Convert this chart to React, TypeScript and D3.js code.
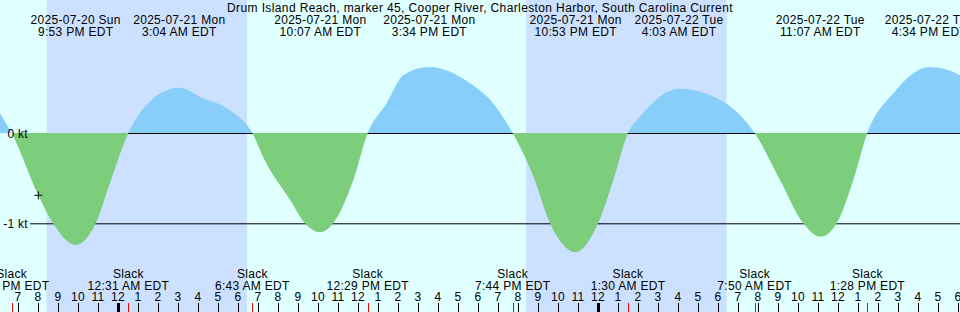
import React from "react";
import * as d3 from "d3";

// all times are local (EDT) as printed on the chart
const titleText =
  "Drum Island Reach, marker 45, Cooper River, Charleston Harbor, South Carolina Current";

const domainStart = "2025-07-20 18:06";
const domainEnd = "2025-07-22 18:06";

// current speed (kt, + = flood, - = ebb)
const curveTimes = [
  "2025-07-20 17:36", "2025-07-20 18:06", "2025-07-20 18:41", "2025-07-20 20:01",
  "2025-07-20 20:45", "2025-07-20 21:53", "2025-07-20 22:53", "2025-07-20 23:36",
  "2025-07-21 00:31", "2025-07-21 01:36", "2025-07-21 03:04", "2025-07-21 04:06",
  "2025-07-21 05:36", "2025-07-21 06:43", "2025-07-21 07:20", "2025-07-21 08:36",
  "2025-07-21 09:21", "2025-07-21 10:07", "2025-07-21 10:45", "2025-07-21 11:46",
  "2025-07-21 12:29", "2025-07-21 13:26", "2025-07-21 14:16", "2025-07-21 15:34",
  "2025-07-21 17:36", "2025-07-21 18:45", "2025-07-21 19:44", "2025-07-21 20:46",
  "2025-07-21 21:36", "2025-07-21 22:53", "2025-07-22 00:00", "2025-07-22 00:46",
  "2025-07-22 01:30", "2025-07-22 02:06", "2025-07-22 04:03", "2025-07-22 06:15",
  "2025-07-22 07:06", "2025-07-22 07:50", "2025-07-22 09:06", "2025-07-22 10:16",
  "2025-07-22 11:07", "2025-07-22 11:56", "2025-07-22 12:46", "2025-07-22 13:28",
  "2025-07-22 14:46", "2025-07-22 16:34", "2025-07-22 18:06", "2025-07-22 18:30",
];
const curveKt = [
  0.42, 0.22, 0, -0.69,
  -1.0, -1.24, -1.0, -0.55,
  0, 0.35, 0.5, 0.4,
  0.25, 0, -0.3, -0.74,
  -1.0, -1.1, -1.0, -0.52,
  0, 0.33, 0.64, 0.73,
  0.55, 0.33, 0, -0.48,
  -1.0, -1.32, -1.0, -0.52,
  0, 0.18, 0.49, 0.35,
  0.2, 0, -0.52, -1.0,
  -1.15, -1.0, -0.52, 0,
  0.44, 0.73, 0.64, 0.58,
];

// max flood / max ebb events (top labels)
const maxTimes = [
  "2025-07-20 21:53", "2025-07-21 03:04", "2025-07-21 10:07", "2025-07-21 15:34",
  "2025-07-21 22:53", "2025-07-22 04:03", "2025-07-22 11:07", "2025-07-22 16:34",
];
// slack water events (bottom labels + red ticks)
const slackTimes = [
  "2025-07-20 18:41", "2025-07-21 00:31", "2025-07-21 06:43", "2025-07-21 12:29",
  "2025-07-21 19:44", "2025-07-22 01:30", "2025-07-22 07:50", "2025-07-22 13:28",
];
// night (sunset -> sunrise)
const nightStart = ["2025-07-20 20:26", "2025-07-21 20:24"];
const nightEnd = ["2025-07-21 06:27", "2025-07-22 06:26"];

const gridKt = [0, -1];
const gridLabels = ["0 kt", "-1 kt"];

const markerTime = "2025-07-20 20:01";
const markerKt = -0.69;

const W = 960;
const H = 312;
const FONT = "'Liberation Sans', Arial, sans-serif";
const FS = 12;
const LS = 0.3;

const parse = d3.timeParse("%Y-%m-%d %H:%M");
const fmtDate = d3.timeFormat("%Y-%m-%d %a");
const fmtTime = d3.timeFormat("%-I:%M %p");
const fmtHour = d3.timeFormat("%-I");

export default function App() {
  const x = d3
    .scaleTime()
    .domain([parse(domainStart)!, parse(domainEnd)!])
    .range([0, W]);
  const y = d3.scaleLinear().domain([0, -1]).range([133, 223.3]);

  const pts = curveTimes.map((t, i) => ({ t: parse(t)!, v: curveKt[i] }));
  const area = d3
    .area<{ t: Date; v: number }>()
    .x((d) => x(d.t))
    .y0(y(0))
    .y1((d) => y(d.v))
    .curve(d3.curveMonotoneX);
  const areaPath = area(pts) || "";

  const hours = x.ticks(d3.timeHour.every(1)!);
  const y0 = y(0);
  const mx = x(parse(markerTime)!);
  const my = y(markerKt);

  return (
    <svg
      width={W}
      height={H}
      style={{ position: "absolute", left: 0, top: 0, display: "block" }}
      fontFamily={FONT}
      letterSpacing={LS}
    >
      <defs>
        <clipPath id="above">
          <rect x={0} y={0} width={W} height={y0} />
        </clipPath>
        <clipPath id="below">
          <rect x={0} y={y0} width={W} height={H - y0} />
        </clipPath>
      </defs>
      <rect x={0} y={0} width={W} height={H} fill="#e0ffff" />
      {nightStart.map((s, i) => {
        const a = x(parse(s)!);
        const b = x(parse(nightEnd[i])!);
        return <rect key={s} x={a} y={0} width={b - a} height={H} fill="#cce0ff" />;
      })}

      {gridKt.map((k) => (
        <line key={k} x1={30} x2={W} y1={y(k) + 0.5} y2={y(k) + 0.5} stroke="#000" />
      ))}

      <path d={areaPath} fill="#87cefa" clipPath="url(#above)" />
      <path d={areaPath} fill="#7ccd7c" clipPath="url(#below)" />

      {gridKt.map((k, i) => (
        <text key={k} x={28} y={y(k) + 4.5} fontSize={FS} textAnchor="end" fill="#000">
          {gridLabels[i]}
        </text>
      ))}

      {/* current time marker */}
      <g stroke="#000" strokeWidth={1}>
        <line x1={mx - 4} x2={mx + 4} y1={my} y2={my} />
        <line x1={mx} x2={mx} y1={my - 4} y2={my + 4} />
      </g>

      <text x={W / 2} y={12} fontSize={FS} textAnchor="middle" fill="#000" letterSpacing={0.38}>
        {titleText}
      </text>

      {maxTimes.map((s) => {
        const d = parse(s)!;
        return (
          <g key={s} fontSize={FS} textAnchor="middle" fill="#000">
            <text x={x(d)} y={24}>{fmtDate(d)}</text>
            <text x={x(d)} y={36}>{fmtTime(d) + " EDT"}</text>
          </g>
        );
      })}

      {slackTimes.map((s) => {
        const d = parse(s)!;
        return (
          <g key={s} fontSize={FS} textAnchor="middle" fill="#000">
            <text x={x(d)} y={278}>Slack</text>
            <text x={x(d)} y={290}>{fmtTime(d) + " EDT"}</text>
          </g>
        );
      })}

      {hours.map((h) => {
        const hx = Math.round(x(h));
        const midnight = h.getHours() === 0;
        return (
          <g key={+h}>
            <text x={hx} y={301} fontSize={FS} textAnchor="middle" fill="#000">
              {fmtHour(h)}
            </text>
            <line
              x1={hx + 0.5}
              x2={hx + 0.5}
              y1={303}
              y2={312}
              stroke="#000"
              strokeWidth={midnight ? 3 : 1}
            />
          </g>
        );
      })}

      {slackTimes.map((s) => {
        const sx = Math.round(x(parse(s)!)) + 0.5;
        return <line key={s} x1={sx} x2={sx} y1={303} y2={312} stroke="#ff0000" />;
      })}
    </svg>
  );
}
